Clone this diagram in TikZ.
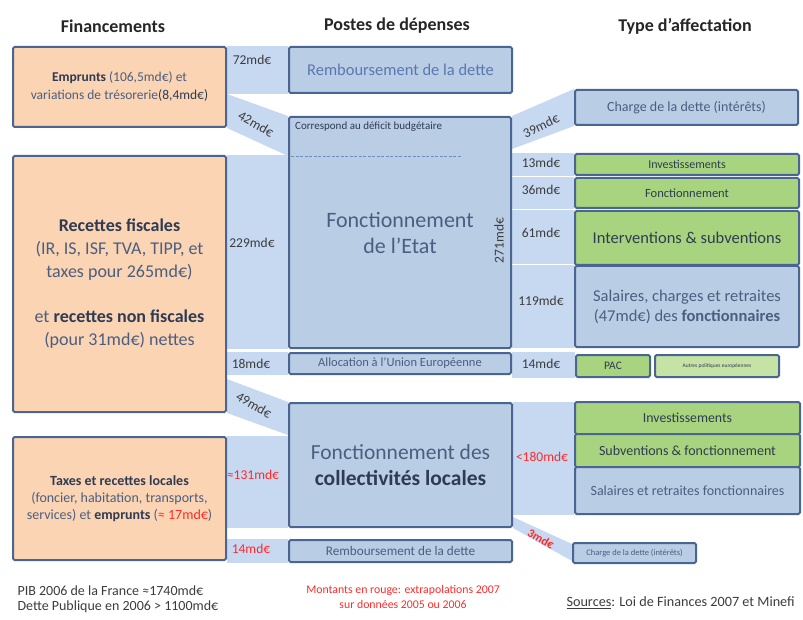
\documentclass[tikz,border=0pt]{standalone}
\usepackage{fontspec}
\setmainfont{Carlito}
\usetikzlibrary{calc,backgrounds}
\newcommand\fsz[2]{\fontsize{#1}{#2}\selectfont}
\definecolor{bord}{HTML}{4A6591}
\definecolor{orF}{HTML}{FBD4B4}
\definecolor{blF}{HTML}{B9CDE5}
\definecolor{bandC}{HTML}{C6D9F1}
\definecolor{grF}{HTML}{A9D47F}
\definecolor{lgrF}{HTML}{C6E3A6}
\definecolor{txB}{HTML}{4B5E80}
\definecolor{txD}{HTML}{2E3B52}
\definecolor{txL}{HTML}{3C3C3C}
\definecolor{txR}{HTML}{5A78B0}
\definecolor{rd}{HTML}{FF2A2A}
\definecolor{dashC}{HTML}{6C8EBF}
\begin{document}
\begin{tikzpicture}[x=1pt,y=-1pt,
  box/.style={draw=bord,line width=2pt,rounded corners=1.5pt,inner sep=0pt,align=center,text=txB},
  obox/.style={box,fill=orF},
  bbox/.style={box,fill=blF},
  gbox/.style={box,fill=grF,text=txD},
  lgbox/.style={box,fill=lgrF,text=txD},
  lab/.style={text=txL,font=\fsz{13.5}{16}},
  rlab/.style={text=rd,font=\fsz{13.5}{16}},
  band/.style={fill=bandC},
  sepline/.style={draw=white,line width=1pt},
  head/.style={text=black!85,font=\fsz{18}{20}\bfseries}]
\useasboundingbox (0,0) rectangle (803,620);

% headers
\node[head] (h1) at (113,26) {Financements};
\node[head] (h2) at (397,26) {Postes de dépenses};
\node[head] (h3) at (685,26) {Type d’affectation};

% left column
\node[obox,minimum width=213pt,minimum height=80pt,font=\fsz{13.5}{18}] (emp) at (119.5,87)
  {\textcolor{txD}{\textbf{Emprunts}} (106,5md€) et\\variations de trésorerie\textcolor{txD}{(8,4md€)}};
\node[obox,minimum width=213pt,minimum height=256pt,font=\fsz{18}{23}] (rec) at (119.5,284)
  {\textcolor{txD}{\textbf{Recettes fiscales}}\\(IR, IS, ISF, TVA, TIPP, et\\taxes pour 265md€)\\[22pt]et \textcolor{txD}{\textbf{recettes non fiscales}}\\(pour 31md€) nettes};
\node[obox,minimum width=213pt,minimum height=123pt,font=\fsz{14}{17}] (tax) at (119.5,498.5)
  {\textcolor{txD}{\textbf{Taxes et recettes locales}}\\(foncier, habitation, transports,\\services) et \textcolor{txD}{\textbf{emprunts}} (\textcolor{rd}{≈ 17md€})};

% middle column
\node[bbox,minimum width=223pt,minimum height=46pt,font=\fsz{16.5}{19},text=txR] (remb1) at (400.5,70) {Remboursement de la dette};
\node[bbox,minimum width=222pt,minimum height=231pt,font=\fsz{22}{26}] (etat) at (400,232.5) {Fonctionnement\\de l’Etat};
\node[bbox,minimum width=222pt,minimum height=21pt,font=\fsz{12.5}{14}] (alloc) at (400,363.5) {Allocation à l’Union Européenne};
\node[bbox,minimum width=223pt,minimum height=124pt,font=\fsz{21.5}{26}] (coll) at (400.5,465) {Fonctionnement des\\\textcolor{txD}{\textbf{collectivités locales}}};
\node[bbox,minimum width=223pt,minimum height=22pt,font=\fsz{13.2}{15}] (remb2) at (400.5,551) {Remboursement de la dette};

\node[anchor=west,font=\fsz{11}{13},text=txD,inner sep=0pt] (deficit) at ($(etat.north west)+(7,11)$) {Correspond au déficit budgétaire};
\draw[dashC,line width=0.7pt,dash pattern=on 3pt off 1.5pt] ($(etat.north west)+(3,40)$) -- ($(etat.north west)+(174,40)$);
\node[lab,rotate=90] (tot) at ($(etat.east)+(-13,8)$) {271md€};

% right column
\node[bbox,minimum width=223pt,minimum height=35pt,font=\fsz{14}{16}] (charge1) at (686.5,107.5) {Charge de la dette (intérêts)};
\node[gbox,minimum width=224pt,minimum height=21pt,font=\fsz{12}{14}] (inv1) at (687,164.5) {Investissements};
\node[gbox,minimum width=224pt,minimum height=30pt,font=\fsz{12.5}{14}] (fonc1) at (687,193) {Fonctionnement};
\node[gbox,minimum width=224pt,minimum height=54pt,font=\fsz{16.5}{19}] (interv) at (687,238) {Interventions \& subventions};
\node[bbox,minimum width=224pt,minimum height=81pt,font=\fsz{16.5}{20}] (sal1) at (687,306.5) {Salaires, charges et retraites\\(47md€) des \textbf{fonctionnaires}};
\node[gbox,minimum width=74pt,minimum height=22pt,font=\fsz{11.5}{13}] (pac) at (613,366) {PAC};
\node[lgbox,minimum width=124pt,minimum height=22pt,font=\fsz{5.5}{7}] (autres) at (717,366) {Autres politiques européennes};
\node[gbox,minimum width=225pt,minimum height=32pt,font=\fsz{13.8}{16}] (inv2) at (687.5,418) {Investissements};
\node[gbox,minimum width=225pt,minimum height=33pt,font=\fsz{14}{16}] (subv) at (687.5,450.5) {Subventions \& fonctionnement};
\node[bbox,minimum width=225pt,minimum height=47pt,font=\fsz{14}{16}] (sal2) at (687.5,490.5) {Salaires et retraites fonctionnaires};
\node[bbox,minimum width=123pt,minimum height=20pt,font=\fsz{8.5}{10}] (charge2) at (634.5,553) {Charge de la dette (intérêts)};

% bands
\begin{scope}[on background layer]
\fill[band] (emp.north east) rectangle (remb1.south west);
\fill[band] (emp.east |- remb1.south) -- (etat.north west) -- ($(etat.north west)+(0,40)$) -- (emp.south east) -- cycle;
\fill[band] (rec.north east) rectangle (etat.south west);
\fill[band] (rec.east |- alloc.north) rectangle (alloc.south west);
\fill[band] ($(rec.south east)+(0,-34)$) -- (coll.north west) -- ($(coll.north west)+(0,33)$) -- (rec.south east) -- cycle;
\fill[band] (tax.north east) rectangle (coll.south west);
\fill[band] (tax.east |- remb2.north) rectangle (remb2.south west);
\fill[band] (etat.north east) -- (charge1.north west) -- (charge1.south west) -- ($(etat.north east)+(0,33)$) -- cycle;
\fill[band] (etat.east |- inv1.north) rectangle (sal1.south west);
\draw[sepline] (etat.east |- fonc1.north) -- (fonc1.north west);
\draw[sepline] (etat.east |- interv.north) -- (interv.north west);
\draw[sepline] (etat.east |- sal1.north) -- (sal1.north west);
\fill[band] (alloc.north east) rectangle (pac.south west);
\fill[band] (coll.north east) rectangle (sal2.south west);
\fill[band] ($(coll.south east)+(0,-11)$) -- ($(charge2.north west)+(0,2)$) -- ($(charge2.south west)+(0,-3)$) -- (coll.south east) -- cycle;
\end{scope}

% band labels
\node[lab] (l72) at (252,60) {72md€};
\node[lab,rotate=-30] (l42) at (256,124) {42md€};
\node[lab] (l229) at (252,243) {229md€};
\node[lab] (l18) at (251,364) {18md€};
\node[lab,rotate=-30] (l49) at (254,405) {49md€};
\node[rlab] (l131) at (253,475) {≈131md€};
\node[rlab] (l14b) at (251,549) {14md€};
\node[lab,rotate=25] (l39) at (541,126) {39md€};
\node[lab] (l13) at (541,163) {13md€};
\node[lab] (l36) at (541,190) {36md€};
\node[lab] (l61) at (541,233) {61md€};
\node[lab] (l119) at (541,301) {119md€};
\node[lab] (l14) at (541,364) {14md€};
\node[rlab] (l180) at (542,457) {<180md€};
\node[text=rd,font=\fsz{12}{14}\bfseries,rotate=-30,inner sep=1pt] (l3) at (541,539) {3md€};

% footer
\node[anchor=west,text=txL,font=\fsz{14}{16}] (pib) at (14,591) {PIB 2006 de la France ≈1740md€};
\node[anchor=west,text=txL,font=\fsz{14}{16}] (dette) at (14,607) {Dette Publique en 2006 > 1100md€};
\node[text=rd,font=\fsz{11.8}{14.5},align=center] (note) at (403,597) {Montants en rouge: extrapolations 2007\\sur données 2005 ou 2006};
\node[anchor=west,text=txL,font=\fsz{14.2}{16}] (src) at (563,603) {\underline{Sources}: Loi de Finances 2007 et Minefi};
\end{tikzpicture}
\end{document}
